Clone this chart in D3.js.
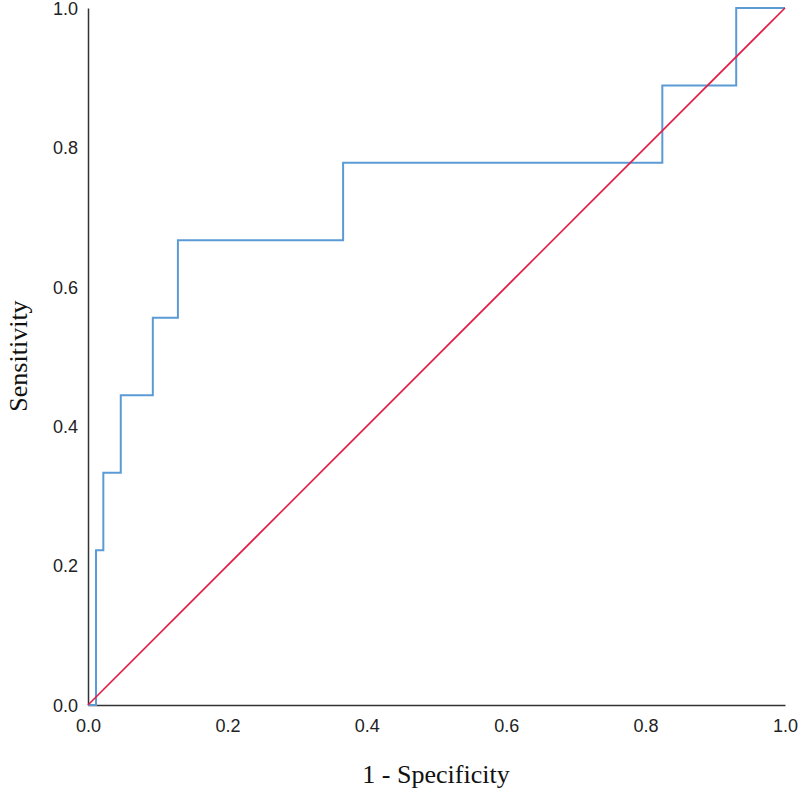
<!DOCTYPE html>
<html><head><meta charset="utf-8">
<script src="https://cdn.jsdelivr.net/npm/d3@7"></script>
<style>body{margin:0;background:#fff}</style>
</head><body>
<svg id="c" width="800" height="794"></svg>
<script>
const fpr = [0, 0.0115, 0.0115, 0.022, 0.022, 0.047, 0.047, 0.093, 0.093, 0.129, 0.129, 0.366, 0.366, 0.824, 0.824, 0.930, 0.930, 1.0];
const tpr = [0, 0, 0.2222, 0.2222, 0.3333, 0.3333, 0.4444, 0.4444, 0.5556, 0.5556, 0.6667, 0.6667, 0.7778, 0.7778, 0.8889, 0.8889, 1.0, 1.0];
const refLine = [[0, 0], [1, 1]];
const ticks = [0, 0.2, 0.4, 0.6, 0.8, 1.0];

const svg = d3.select("#c");
const x = d3.scaleLinear().domain([0, 1]).range([88, 785]);
const y = d3.scaleLinear().domain([0, 1]).range([705, 8]);

const xAxis = d3.axisBottom(x).tickValues(ticks).tickFormat(d3.format(".1f")).tickSize(0).tickPadding(14);
const yAxis = d3.axisLeft(y).tickValues(ticks).tickFormat(d3.format(".1f")).tickSize(0).tickPadding(10);

const gx = svg.append("g").attr("transform", "translate(0,705)").call(xAxis);
const gy = svg.append("g").attr("transform", "translate(88,0)").call(yAxis);
[gx, gy].forEach(g => {
  g.select(".domain").attr("stroke", "#333").attr("stroke-width", 1.5);
  g.selectAll("text").attr("font-family", "Liberation Sans, Arial, sans-serif").attr("font-size", 18).attr("fill", "#222");
});
gy.selectAll("text").attr("dy", "0.35em");

svg.append("path")
  .datum(fpr.map((f, i) => [f, tpr[i]]))
  .attr("fill", "none").attr("stroke", "#5b9bd5").attr("stroke-width", 2)
  .attr("d", d3.line().x(d => x(d[0])).y(d => y(d[1])));

svg.append("path")
  .datum(refLine)
  .attr("fill", "none").attr("stroke", "#e31b43").attr("stroke-width", 1.6)
  .attr("d", d3.line().x(d => x(d[0])).y(d => y(d[1])));

svg.append("text").attr("x", 436).attr("y", 783).attr("text-anchor", "middle")
  .attr("font-family", "Liberation Serif, Times New Roman, serif").attr("font-size", 26).attr("fill", "#111")
  .text("1 - Specificity");
svg.append("text").attr("transform", "translate(27,356) rotate(-90)").attr("text-anchor", "middle")
  .attr("font-family", "Liberation Serif, Times New Roman, serif").attr("font-size", 26).attr("fill", "#111")
  .text("Sensitivity");
</script>
</body></html>
